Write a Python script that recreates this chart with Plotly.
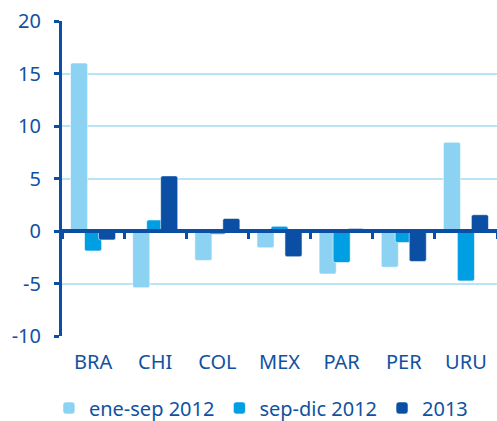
import plotly.graph_objects as go

categories = ["BRA", "CHI", "COL", "MEX", "PAR", "PER", "URU"]
ene_sep_2012 = [16.0, -5.4, -2.8, -1.6, -4.1, -3.45, 8.45]
sep_dic_2012 = [-1.9, 1.05, -0.3, 0.45, -3.0, -1.1, -4.75]
y_2013 = [-0.85, 5.25, 1.2, -2.45, 0.25, -2.9, 1.55]
series_names = ["ene-sep 2012", "sep-dic 2012", "2013"]
y_ticks = [-10, -5, 0, 5, 10, 15, 20]
y_tick_labels = ["-10", "-5", "0", "5", "10", "15", "20"]

colors = ["#8CD3F3", "#009EE2", "#0A4FA3"]
text_color = "#0F52A2"
grid_color = "#B8E4F8"
font_family = "Noto Sans"

bar_w = 0.275
step = 0.225
offsets = [-step - bar_w / 2, -bar_w / 2, step - bar_w / 2]

fig = go.Figure()
for name, vals, col, off in zip(series_names, [ene_sep_2012, sep_dic_2012, y_2013], colors, offsets):
    fig.add_trace(go.Bar(
        x=categories, y=vals, name=name,
        width=bar_w, offset=off,
        marker=dict(color=col, line=dict(color="rgba(255,255,255,0.7)", width=0.8), cornerradius=2),
    ))

fig.update_layout(
    width=497, height=421,
    barmode="overlay",
    margin=dict(l=62, r=0, t=21, b=85, autoexpand=False),
    plot_bgcolor="white", paper_bgcolor="white",
    font=dict(family=font_family, size=20, color=text_color),
    showlegend=True,
    legend=dict(
        orientation="h", xref="container", yref="container",
        x=0.525, xanchor="center", y=0.031, yanchor="middle",
        font=dict(size=20, color=text_color),
        itemwidth=30, tracegroupgap=0,
    ),
    xaxis=dict(
        type="category", showgrid=False, showline=False, ticks="",
        tickfont=dict(size=20, color=text_color), ticklabelstandoff=12,
        range=[-0.5, 6.5],
    ),
    xaxis2=dict(
        type="category", overlaying="x", anchor="free", position=1/3,
        matches="x", showgrid=False, showline=True, linecolor="#0A4FA3", linewidth=3.5,
        ticks="outside", tickson="boundaries", ticklen=6, tickwidth=3, tickcolor="#0A4FA3",
        showticklabels=False, layer="above traces",
    ),
    yaxis=dict(
        range=[-10, 20], tickvals=y_ticks, ticktext=y_tick_labels,
        showgrid=True, gridcolor=grid_color, gridwidth=2,
        zeroline=False, showline=True, linecolor="#0A4FA3", linewidth=3,
        ticks="outside", ticklen=5, tickwidth=3, tickcolor="#0A4FA3",
        tickfont=dict(size=20, color=text_color), ticklabelstandoff=9,
        layer="above traces",
    ),
)
# invisible trace to activate the zero-line axis (xaxis2)
fig.add_trace(go.Scatter(x=categories, y=[None] * len(categories), xaxis="x2", showlegend=False, hoverinfo="skip"))

fig.write_html("out.html", config={"displayModeBar": False},
               post_script="document.body.style.margin='0';")
